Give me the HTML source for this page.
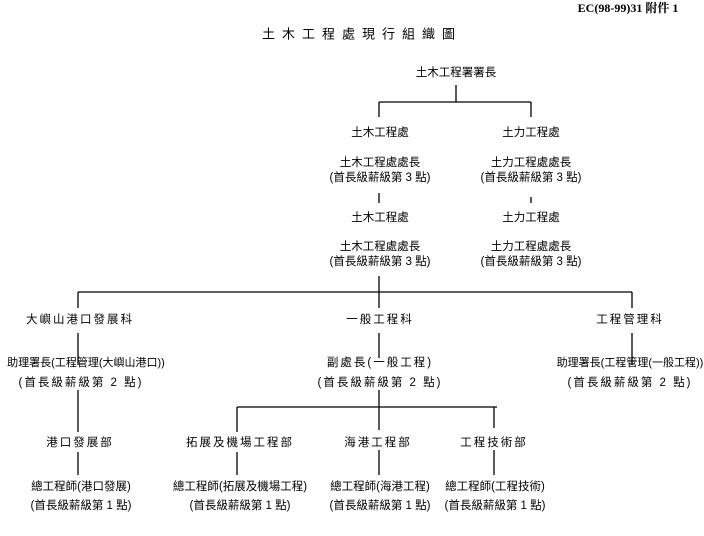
<!DOCTYPE html>
<html><head><meta charset="utf-8"><style>
html,body{margin:0;padding:0;background:#fff;width:704px;height:536px;overflow:hidden}
svg{display:block}
text{font-family:"Liberation Sans","Noto Sans CJK TC",sans-serif;font-size:11.5px;fill:#000;text-anchor:middle;dominant-baseline:central}
line{stroke:#000;stroke-width:1.3}
</style></head><body>
<svg width="704" height="536" xmlns="http://www.w3.org/2000/svg">
<text x="628" y="8" style="font-family:'Liberation Serif','Noto Serif CJK SC',serif;font-weight:bold;font-size:12px">EC(98-99)31 附件 1</text>
<text x="362" y="34" style="font-size:13px;letter-spacing:7px">土木工程處現行組織圖</text>

<text x="456" y="73">土木工程署署長</text>
<line x1="456" y1="85" x2="456" y2="102"/>
<line x1="379" y1="102" x2="531" y2="102"/>
<line x1="379" y1="102" x2="379" y2="117"/>
<line x1="531" y1="102" x2="531" y2="117"/>

<text x="380" y="133">土木工程處</text>
<text x="531" y="133">土力工程處</text>
<text x="380" y="163">土木工程處處長</text>
<text x="531" y="163">土力工程處處長</text>
<text x="380" y="178">(首長級薪級第 3 點)</text>
<text x="531" y="178">(首長級薪級第 3 點)</text>
<line x1="379" y1="193" x2="379" y2="203"/>
<line x1="531" y1="197" x2="531" y2="203"/>
<text x="380" y="218">土木工程處</text>
<text x="531" y="218">土力工程處</text>
<text x="380" y="247">土木工程處處長</text>
<text x="531" y="247">土力工程處處長</text>
<text x="380" y="262">(首長級薪級第 3 點)</text>
<text x="531" y="262">(首長級薪級第 3 點)</text>
<line x1="379" y1="276" x2="379" y2="292"/>
<line x1="78" y1="292" x2="632" y2="292"/>
<line x1="78" y1="292" x2="78" y2="308"/>
<line x1="632" y1="292" x2="632" y2="308"/>
<line x1="379" y1="292" x2="379" y2="308"/>

<text x="80" y="320" style="letter-spacing:2px">大嶼山港口發展科</text>
<text x="380" y="320" style="letter-spacing:2px">一般工程科</text>
<text x="630" y="320" style="letter-spacing:2px">工程管理科</text>
<line x1="78" y1="333" x2="78" y2="365"/>
<line x1="379" y1="333" x2="379" y2="358"/>
<line x1="632" y1="333" x2="632" y2="365"/>

<text x="86" y="363" style="font-size:11px">助理署長(工程管理(大嶼山港口))</text>
<text x="380" y="363" style="letter-spacing:2px">副處長(一般工程)</text>
<text x="630" y="363" style="font-size:11px">助理署長(工程管理(一般工程))</text>
<text x="81" y="383" style="letter-spacing:2px">(首長級薪級第 2 點)</text>
<text x="380" y="383" style="letter-spacing:2px">(首長級薪級第 2 點)</text>
<text x="630" y="383" style="letter-spacing:2px">(首長級薪級第 2 點)</text>

<line x1="78" y1="390" x2="78" y2="432"/>
<line x1="379" y1="390" x2="379" y2="430"/>
<line x1="237" y1="407" x2="497" y2="407"/>
<line x1="237" y1="407" x2="237" y2="432"/>
<line x1="494" y1="407" x2="494" y2="428"/>

<text x="80" y="443" style="letter-spacing:2px">港口發展部</text>
<text x="240" y="443" style="letter-spacing:2px">拓展及機場工程部</text>
<text x="378" y="443" style="letter-spacing:2px">海港工程部</text>
<text x="494" y="443" style="letter-spacing:2px">工程技術部</text>

<line x1="78" y1="452" x2="78" y2="475"/>
<line x1="237" y1="452" x2="237" y2="475"/>
<line x1="379" y1="450" x2="379" y2="475"/>
<line x1="494" y1="450" x2="494" y2="475"/>

<text x="81" y="487">總工程師(港口發展)</text>
<text x="240" y="487">總工程師(拓展及機場工程)</text>
<text x="380" y="487">總工程師(海港工程)</text>
<text x="495" y="487">總工程師(工程技術)</text>
<text x="81" y="506">(首長級薪級第 1 點)</text>
<text x="240" y="506">(首長級薪級第 1 點)</text>
<text x="380" y="506">(首長級薪級第 1 點)</text>
<text x="495" y="506">(首長級薪級第 1 點)</text>
</svg>
</body></html>
